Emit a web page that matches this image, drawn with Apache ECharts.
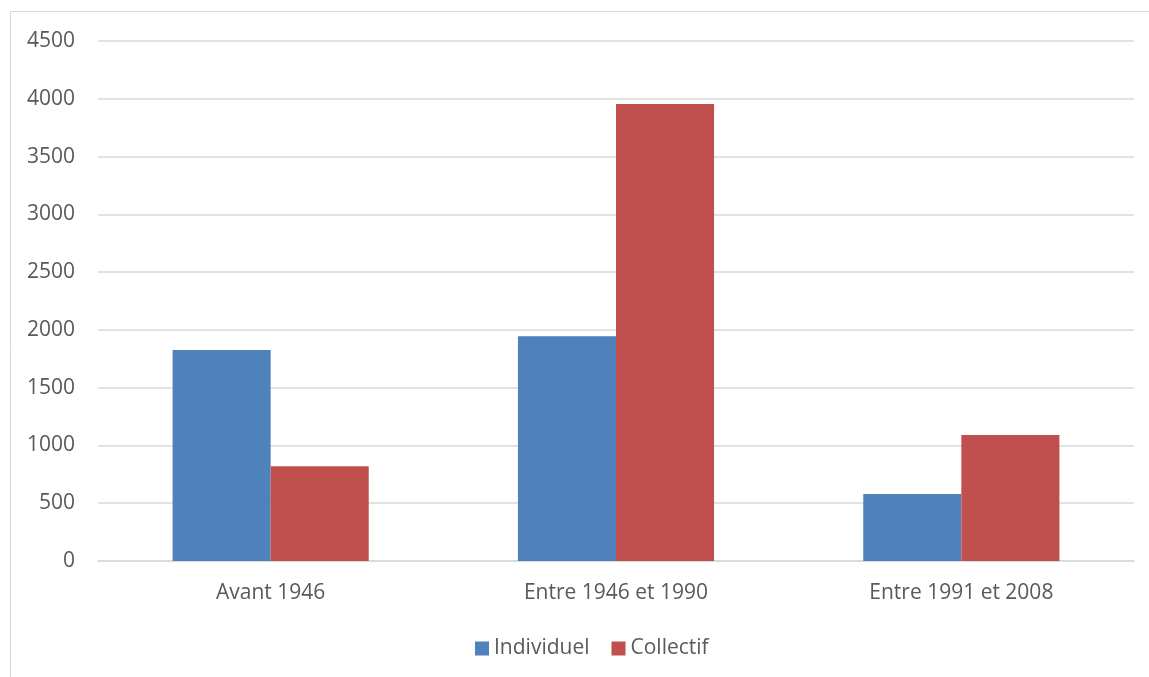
<!DOCTYPE html>
<html>
<head>
<meta charset="utf-8">
<script src="https://cdn.jsdelivr.net/npm/echarts@6/dist/echarts.min.js"></script>
<style>
  html, body { margin: 0; padding: 0; background: #fff; }
  #chart { width: 1149px; height: 677px; }
</style>
</head>
<body>
<div id="chart"></div>
<script>
// periodes de construction
const categories = ["Avant 1946", "Entre 1946 et 1990", "Entre 1991 et 2008"];
const individuel = [1825, 1945, 580];
const collectif = [820, 3955, 1090];
const seriesNames = ["Individuel", "Collectif"];

const textColor = "#595959";
const font = "Open Sans";

const chart = echarts.init(document.getElementById("chart"), null, { renderer: "canvas" });

chart.setOption({
  animation: false,
  backgroundColor: "#fff",
  graphic: [
    {
      type: "rect",
      shape: { x: 10.5, y: 11.5, width: 1200, height: 800 },
      style: { fill: "none", stroke: "#d9d9d9", lineWidth: 1 },
      silent: true,
    },
  ],
  grid: { left: 98, right: 15, top: 41, bottom: 116 },
  legend: {
    data: seriesNames,
    top: 633,
    left: 470,
    icon: "rect",
    itemWidth: 14,
    itemHeight: 14,
    itemGap: 22,
    textStyle: { color: textColor, fontFamily: font, fontSize: 21 },
  },
  xAxis: {
    type: "category",
    data: categories,
    axisLine: { lineStyle: { color: "#d9d9d9", width: 1.5 } },
    axisTick: { show: false },
    axisLabel: { color: textColor, fontFamily: font, fontSize: 21, margin: 22 },
  },
  yAxis: {
    type: "value",
    min: 0,
    max: 4500,
    interval: 500,
    axisLine: { show: false },
    axisTick: { show: false },
    splitLine: { lineStyle: { color: "#d9d9d9", width: 1.5 } },
    axisLabel: {
      color: textColor,
      fontFamily: font,
      fontSize: 21,
      margin: 23,
      formatter: (v) => String(v),
    },
  },
  series: [
    {
      name: seriesNames[0],
      type: "bar",
      data: individuel,
      barWidth: "28.4%",
      barGap: "0%",
      itemStyle: { color: "#4f81bd" },
    },
    {
      name: seriesNames[1],
      type: "bar",
      data: collectif,
      barWidth: "28.4%",
      itemStyle: { color: "#c0504d" },
    },
  ],
});
</script>
</body>
</html>
